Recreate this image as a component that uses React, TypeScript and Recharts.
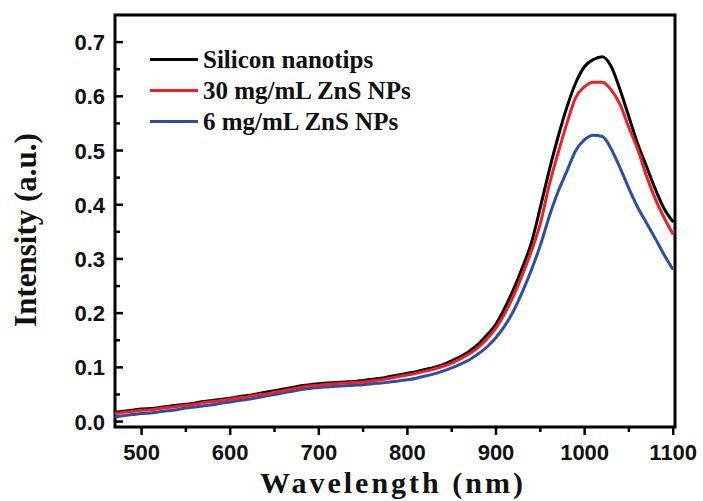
import React from "react";
import { LineChart, Line, XAxis, YAxis, ReferenceArea, Legend } from "recharts";

const wavelengths = [
  470, 480, 490, 500, 510, 520, 530, 540, 550, 560, 570, 580, 590, 600, 610, 620,
  630, 640, 650, 660, 670, 680, 690, 700, 710, 720, 730, 740, 750, 760, 770, 780,
  790, 800, 810, 820, 830, 840, 850, 860, 870, 880, 890, 900, 910, 920, 930, 940,
  950, 960, 970, 980, 990, 1000, 1010, 1020, 1030, 1040, 1050, 1060, 1070, 1080, 1090, 1100,
];

const siliconNanotips = [
  0.017, 0.019, 0.021, 0.023, 0.024, 0.026, 0.028, 0.030, 0.032, 0.034, 0.037, 0.039, 0.041, 0.043, 0.046, 0.048,
  0.051, 0.054, 0.057, 0.060, 0.063, 0.066, 0.068, 0.070, 0.071, 0.072, 0.073, 0.074, 0.076, 0.078, 0.080, 0.083,
  0.086, 0.089, 0.092, 0.096, 0.100, 0.105, 0.112, 0.120, 0.130, 0.143, 0.160, 0.180, 0.210, 0.245, 0.285, 0.330,
  0.395, 0.463, 0.525, 0.580, 0.625, 0.655, 0.668, 0.673, 0.655, 0.612, 0.562, 0.512, 0.470, 0.428, 0.392, 0.368,
];

const zns30 = [
  0.015, 0.017, 0.019, 0.021, 0.022, 0.024, 0.026, 0.028, 0.030, 0.032, 0.035, 0.037, 0.039, 0.041, 0.044, 0.046,
  0.049, 0.051, 0.054, 0.057, 0.060, 0.063, 0.066, 0.067, 0.069, 0.070, 0.071, 0.072, 0.073, 0.075, 0.077, 0.080,
  0.083, 0.086, 0.089, 0.093, 0.097, 0.102, 0.108, 0.116, 0.125, 0.137, 0.153, 0.173, 0.200, 0.233, 0.272, 0.315,
  0.365, 0.436, 0.495, 0.550, 0.598, 0.618, 0.626, 0.626, 0.612, 0.585, 0.542, 0.502, 0.452, 0.410, 0.375, 0.345,
];

const zns6 = [
  0.009, 0.011, 0.013, 0.015, 0.016, 0.018, 0.020, 0.022, 0.025, 0.027, 0.029, 0.031, 0.034, 0.036, 0.039, 0.041,
  0.044, 0.047, 0.050, 0.053, 0.056, 0.059, 0.061, 0.063, 0.064, 0.065, 0.066, 0.067, 0.068, 0.070, 0.071, 0.073,
  0.075, 0.077, 0.080, 0.084, 0.088, 0.093, 0.099, 0.106, 0.114, 0.125, 0.138, 0.155, 0.177, 0.205, 0.240, 0.280,
  0.325, 0.378, 0.424, 0.462, 0.500, 0.520, 0.528, 0.526, 0.503, 0.468, 0.430, 0.395, 0.366, 0.337, 0.307, 0.280,
];

const xTicks = [500, 550, 600, 650, 700, 750, 800, 850, 900, 950, 1000, 1050, 1100];
const xMajor = [500, 600, 700, 800, 900, 1000, 1100];
const yTicks = [0, 0.05, 0.1, 0.15, 0.2, 0.25, 0.3, 0.35, 0.4, 0.45, 0.5, 0.55, 0.6, 0.65, 0.7];
const yMajor = [0, 0.1, 0.2, 0.3, 0.4, 0.5, 0.6, 0.7];

const seriesNames = ["Silicon nanotips", "30 mg/mL ZnS NPs", "6 mg/mL ZnS NPs"];
const seriesColors = ["#000000", "#ee1f26", "#2c4fa3"];

const data = wavelengths.map((w, i) => ({
  w,
  s: siliconNanotips[i],
  r: zns30[i],
  b: zns6[i],
}));

const PLOT_LEFT = 115;
const PLOT_BOTTOM = 427;

const isMajorX = (v: number) => xMajor.some((m) => Math.abs(m - v) < 1e-6);
const isMajorY = (v: number) => yMajor.some((m) => Math.abs(m - v) < 1e-6);

const XTick = (props: any) => {
  const { x, payload } = props;
  const major = isMajorX(payload.value);
  return (
    <g>
      <line x1={x} x2={x} y1={PLOT_BOTTOM} y2={PLOT_BOTTOM + (major ? 8 : 5)} stroke="#000" strokeWidth={2.5} />
      {major && (
        <text
          x={x}
          y={460}
          textAnchor="middle"
          fontFamily="Liberation Sans, Arial, sans-serif"
          fontWeight="bold"
          fontSize={22}
          fill="#111"
        >
          {payload.value}
        </text>
      )}
    </g>
  );
};

const YTick = (props: any) => {
  const { y, payload } = props;
  const major = isMajorY(payload.value);
  return (
    <g>
      <line x1={PLOT_LEFT} x2={PLOT_LEFT + (major ? 8 : 5)} y1={y} y2={y} stroke="#000" strokeWidth={2.5} />
      {major && (
        <text
          x={105}
          y={y + 8}
          textAnchor="end"
          fontFamily="Liberation Sans, Arial, sans-serif"
          fontWeight="bold"
          fontSize={22}
          fill="#111"
        >
          {payload.value.toFixed(1)}
        </text>
      )}
    </g>
  );
};

const LegendContent = () => (
  <div style={{ fontFamily: "Liberation Serif, Times New Roman, serif", fontWeight: "bold", fontSize: 25, color: "#111" }}>
    {seriesNames.map((n, i) => (
      <div key={n} style={{ display: "flex", alignItems: "center", height: 31 }}>
        <div style={{ width: 48, height: 3, background: seriesColors[i], marginRight: 5 }} />
        <span style={{ lineHeight: "31px", whiteSpace: "nowrap" }}>{n}</span>
      </div>
    ))}
  </div>
);

export default function App() {
  return (
    <div style={{ position: "absolute", left: 0, top: 0, width: 703, height: 501, background: "#fff" }}>
      <LineChart
        width={703}
        height={501}
        data={data}
        margin={{ top: 15, right: 28, bottom: 34, left: 55 }}
      >
        <XAxis
          dataKey="w"
          type="number"
          domain={[470, 1102]}
          ticks={xTicks}
          tick={<XTick />}
          tickLine={false}
          axisLine={false}
          height={40}
          interval={0}
          allowDataOverflow
        />
        <YAxis
          type="number"
          domain={[-0.01, 0.75]}
          ticks={yTicks}
          tick={<YTick />}
          tickLine={false}
          axisLine={false}
          width={60}
          interval={0}
          allowDataOverflow
        />
        <Line type="monotone" dataKey="s" name={seriesNames[0]} stroke={seriesColors[0]} strokeWidth={3} dot={false} isAnimationActive={false} />
        <Line type="monotone" dataKey="b" name={seriesNames[2]} stroke={seriesColors[2]} strokeWidth={3} dot={false} isAnimationActive={false} />
        <Line type="monotone" dataKey="r" name={seriesNames[1]} stroke={seriesColors[1]} strokeWidth={3} dot={false} isAnimationActive={false} />
        <ReferenceArea x1={470} x2={1102} y1={-0.01} y2={0.75} fill="none" fillOpacity={0} stroke="#000" strokeWidth={3} ifOverflow="visible" />
        <Legend
          layout="horizontal"
          verticalAlign="middle"
          align="center"
          content={<LegendContent />}
          wrapperStyle={{ position: "absolute", top: 44, left: 150, width: 330, height: 95 }}
        />
        <text
          x={393}
          y={493}
          textAnchor="middle"
          fontFamily="Liberation Serif, Times New Roman, serif"
          fontWeight="bold"
          fontSize={30}
          letterSpacing={3}
          fill="#111"
        >
          Wavelength (nm)
        </text>
        <text
          x={36}
          y={230}
          transform="rotate(-90 36 230)"
          textAnchor="middle"
          fontFamily="Liberation Serif, Times New Roman, serif"
          fontWeight="bold"
          fontSize={31}
          fill="#111"
        >
          Intensity (a.u.)
        </text>
      </LineChart>
    </div>
  );
}
